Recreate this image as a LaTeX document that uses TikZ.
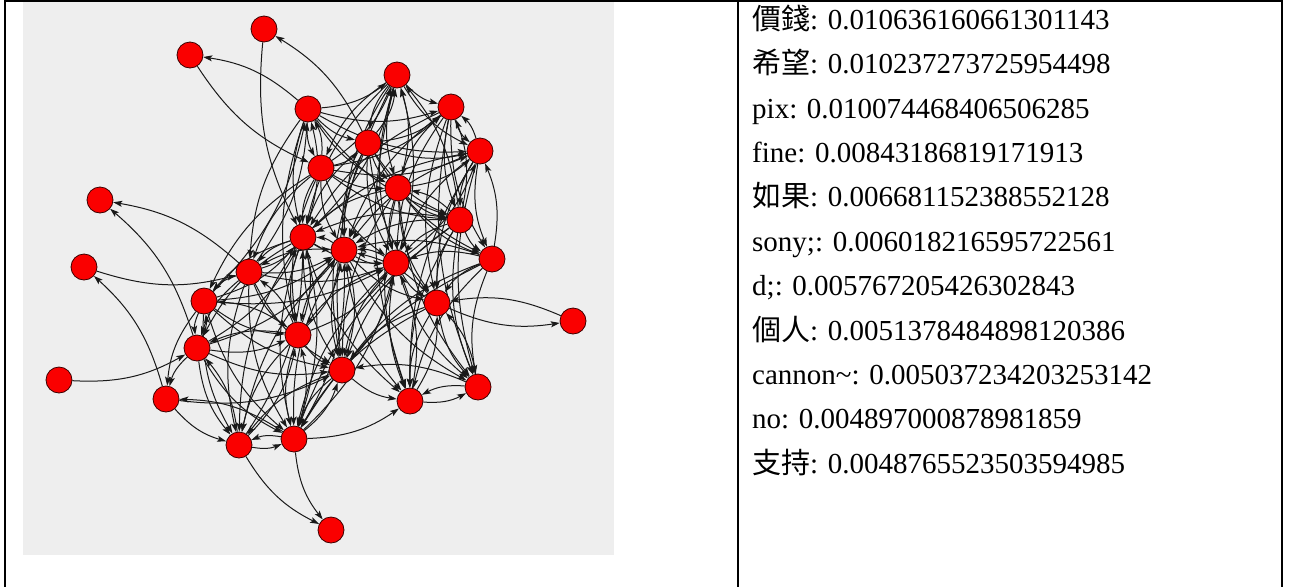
\documentclass[tikz,border=0pt]{standalone}
\usepackage{fontspec}
\setmainfont{Liberation Serif}
\newfontfamily\cjk{Noto Sans CJK TC}
\usetikzlibrary{arrows.meta}
\pgfdeclarelayer{back}
\pgfdeclarelayer{edges}
\pgfsetlayers{back,edges,main}
\definecolor{panel}{RGB}{238,238,238}
\definecolor{nodefill}{RGB}{250,0,0}
\definecolor{noderim}{RGB}{60,0,0}
\begin{document}
\begin{tikzpicture}[x=1pt,y=-1pt,
  vert/.style={circle,fill=nodefill,draw=noderim,line width=0.8pt,minimum size=26pt,inner sep=0pt},
  link/.style={draw=black!90,line width=1pt,-{Stealth[length=9pt,width=6pt,inset=2pt]},bend right=16},
  score/.style={anchor=base west,inner sep=0pt,font=\fontsize{29}{35}\selectfont},
  rule/.style={line width=2pt}]
\useasboundingbox (0,0) rectangle (1292,587);

% graph panel
\begin{pgfonlayer}{back}
  \fill[panel] (23,2) rectangle (614,555);
\end{pgfonlayer}

% vertices
\node[vert] (A) at (264,29) {};
\node[vert] (B) at (190,55) {};
\node[vert] (C) at (397,75) {};
\node[vert] (D) at (308,109) {};
\node[vert] (E) at (451,107) {};
\node[vert] (F) at (368,143) {};
\node[vert] (G) at (480,151) {};
\node[vert] (H) at (321,168) {};
\node[vert] (I) at (398,188) {};
\node[vert] (J) at (100,200) {};
\node[vert] (K) at (460,220) {};
\node[vert] (L) at (303,237) {};
\node[vert] (M) at (344,250) {};
\node[vert] (N) at (492,259) {};
\node[vert] (O) at (396,263) {};
\node[vert] (P) at (84,267) {};
\node[vert] (Q) at (249,272) {};
\node[vert] (R) at (204,301) {};
\node[vert] (S) at (437,303) {};
\node[vert] (T) at (573,321) {};
\node[vert] (U) at (298,335) {};
\node[vert] (V) at (197,348) {};
\node[vert] (W) at (342,370) {};
\node[vert] (X) at (59,380) {};
\node[vert] (Y) at (478,387) {};
\node[vert] (Z) at (166,399) {};
\node[vert] (a) at (410,401) {};
\node[vert] (b) at (294,439) {};
\node[vert] (c) at (239,445) {};
\node[vert] (d) at (331,530) {};

% directed links
\begin{pgfonlayer}{edges}
\foreach \s/\t in {A/L,F/A,D/B,B/H,Q/J,V/J,P/Q,Z/P,X/V,S/T,T/S,b/d,c/d,c/b,b/c,
  D/C,D/E,D/F,D/H,D/G,D/K,D/L,D/I,H/D,Q/D,L/D,R/D,
  F/C,H/C,I/C,L/C,O/C,K/C,C/E,C/G,C/F,C/H,C/I,
  E/G,G/E,F/E,H/E,K/E,F/G,H/G,I/G,N/G,O/G,
  F/I,H/I,K/I,F/K,H/K,I/K,G/K,E/K,G/N,K/N,E/N,F/N,H/F,I/N,
  H/L,F/L,I/L,C/L,E/L,K/L,G/L,M/L,U/L,R/L,Q/L,
  H/M,F/M,I/M,C/M,K/M,L/M,O/M,N/M,S/M,G/M,Q/M,
  H/O,F/O,I/O,C/O,K/O,E/O,M/O,N/O,L/O,U/O,
  K/S,N/S,I/S,G/S,O/S,M/S,
  Q/R,Q/V,Q/U,Q/W,Q/c,R/V,R/U,R/W,R/Z,R/c,R/b,
  V/U,V/W,V/Z,V/c,V/b,U/W,U/b,U/c,
  L/R,L/V,L/W,L/c,L/b,L/U,M/U,M/W,M/b,M/a,
  O/W,O/a,O/Y,O/b,S/W,S/a,S/Y,S/b,K/a,K/Y,N/Y,N/a,K/W,
  Y/W,Y/a,a/Y,W/a,b/a,b/W,W/b,b/Z,Z/W,U/R,O/U,M/Q,L/Q,U/V,
  c/U,b/U,W/c,N/W,G/Y,I/W,Q/b,M/c,I/a,
  E/S,F/W,C/a,E/Y,I/Y,F/S,D/U,H/U,H/R,H/Q,R/M,V/M,U/M,b/M,b/O,
  Y/S,W/M,a/O,c/L,Q/O,R/O,V/L,Z/c,K/b,N/b,G/a,D/Q,C/W,L/a,M/Y,
  W/O,a/S,V/R,c/V,b/L,U/Q,E/I,E/M,G/O}
  \draw[link] (\s) to (\t);
\end{pgfonlayer}

% table rules
\draw[rule] (4,1) -- (1282.7,1);
\draw[rule] (5,0) -- (5,587);
\draw[rule] (737.7,0) -- (737.7,587);
\draw[rule] (1281.7,0) -- (1281.7,587);

% ranked terms
\node[score] (t1)  at (752,29.3)  {{\cjk 價錢}: 0.010636160661301143};
\node[score] (t2)  at (752,73.7)  {{\cjk 希望}: 0.010237273725954498};
\node[score] (t3)  at (752,118.1) {pix: 0.010074468406506285};
\node[score] (t4)  at (752,162.5) {fine: 0.00843186819171913};
\node[score] (t5)  at (752,206.9) {{\cjk 如果}: 0.006681152388552128};
\node[score] (t6)  at (752,251.3) {sony;: 0.006018216595722561};
\node[score] (t7)  at (752,295.7) {d;: 0.005767205426302843};
\node[score] (t8)  at (752,340.1) {{\cjk 個人}: 0.0051378484898120386};
\node[score] (t9)  at (752,384.5) {cannon\textasciitilde: 0.005037234203253142};
\node[score] (t10) at (752,428.9) {no: 0.004897000878981859};
\node[score] (t11) at (752,473.3) {{\cjk 支持}: 0.0048765523503594985};
\end{tikzpicture}
\end{document}
